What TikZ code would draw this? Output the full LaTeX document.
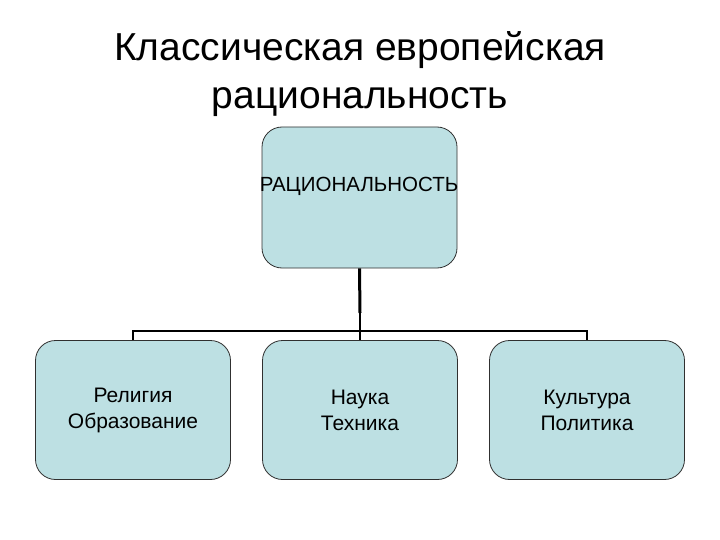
\documentclass[tikz,border=0pt]{standalone}
\usepackage{fontspec}
\setmainfont{Liberation Sans}
\definecolor{boxfill}{HTML}{BDE0E3}
\definecolor{boxline}{HTML}{303030}
\begin{document}
\begin{tikzpicture}[x=1pt,y=-1pt,
  orgbox/.style={draw=boxline,line width=0.8pt,fill=boxfill,rounded corners=20pt,minimum width=195pt,minimum height=139pt,inner sep=0pt,font=\fontsize{21}{26}\selectfont,align=center},
  titletext/.style={font=\fontsize{39}{48}\selectfont,anchor=base,inner sep=0pt},
  conn/.style={draw=black,line width=2pt}]
\useasboundingbox (0,0) rectangle (720,540);
\node[titletext] (title1) at (360,61) {Классическая европейская};
\node[titletext] (title2) at (360,109) {рациональность};
\node[orgbox,minimum height=141pt] (top) at (359.5,197.5) {};
\node[font=\fontsize{20.5}{24}\selectfont] (toptext) at (359,186) {РАЦИОНАЛЬНОСТЬ};
\node[orgbox] (b1) at (133,410) {Религия\\Образование};
\node[orgbox] (b2) at (360,410) {Наука\\Техника};
\node[orgbox] (b3) at (587,410) {Культура\\Политика};
\coordinate (bar) at (360,331);
\coordinate (mid) at (360,313);
\draw[conn,line width=3pt] (top.south) -- (mid);
\draw[conn] (mid) -- (bar);
\draw[conn] (b1.north) -- (b1.north |- bar) -- (b3.north |- bar) -- (b3.north);
\draw[conn] (bar) -- (b2.north);
\end{tikzpicture}
\end{document}
